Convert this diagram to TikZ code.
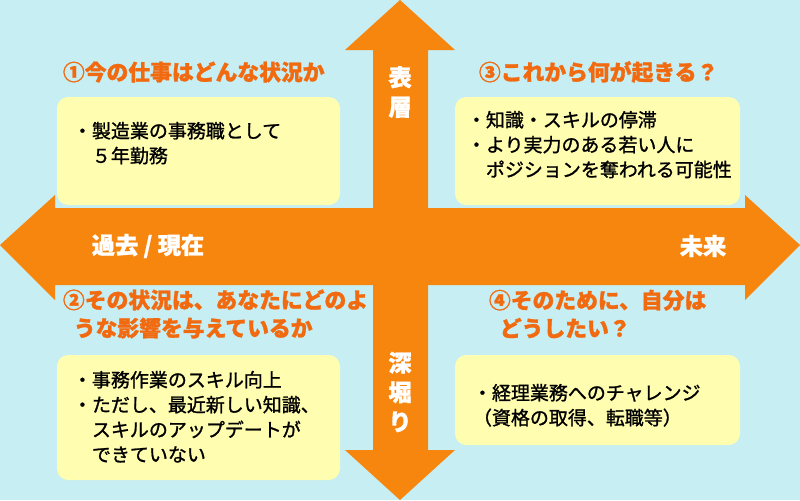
\documentclass[tikz,border=0pt]{standalone}
\usepackage{fontspec}
\setmainfont{Noto Sans CJK JP}[FakeBold=1.2]
\usepackage[rgb]{xcolor}
\definecolor{bgcyan}{HTML}{C6EEF3}
\definecolor{arrorange}{HTML}{F7860F}
\definecolor{boxyellow}{HTML}{FFFDB0}
\definecolor{headorange}{HTML}{F26A10}
\tikzset{
  heading/.style={anchor=west, text=headorange, font=\fontsize{15.5}{20}\selectfont\bfseries, align=left},
  infobox/.style={fill=boxyellow, rounded corners=8pt},
  boxtext/.style={anchor=north west, font=\fontsize{13.5}{17.7}\selectfont, align=left},
  axislabel/.style={text=white, font=\fontsize{16.5}{21}\selectfont\bfseries}
}
\begin{document}
\begin{tikzpicture}[x=0.025cm, y=-0.025cm]

% background
\fill[bgcyan] (0,0) rectangle (800,500);

% horizontal and vertical arrows
\fill[arrorange] (0,245) -- (55,195) -- (55,208) -- (745,208) -- (745,195)
  -- (800,245) -- (745,300) -- (745,285) -- (55,285) -- (55,300) -- cycle;
\fill[arrorange] (400,0) -- (455,50) -- (428,50) -- (428,450) -- (455,450)
  -- (400,500) -- (345,450) -- (373,450) -- (373,50) -- (345,50) -- cycle;

% axis labels
\node[axislabel, align=center] (surface) at (400,92) {表\\層};
\node[axislabel, align=center] (deep) at (400,392) {深\\堀\\り};
\node[axislabel] (past) at (148,246) {過去 / 現在};
\node[axislabel] (future) at (703,246) {未来};

% top left
\node[heading] (q1) at (58,72) {①今の仕事はどんな状況か};
\fill[infobox] (57,97) rectangle (340,205);
\node[boxtext] (a1) at (68,117) {・製造業の事務職として\\\quad ５年勤務};

% top right
\node[heading] (q3) at (474,72) {③これから何が起きる？};
\fill[infobox] (455,97) rectangle (740,205);
\node[boxtext] (a3) at (462,106) {・知識・スキルの停滞\\・より実力のある若い人に\\\quad ポジションを奪われる可能性};

% bottom left
\node[heading] (q2) at (58,314) {②その状況は、あなたにどのよ\\\enspace うな影響を与えているか};
\fill[infobox] (57,355) rectangle (340,480);
\node[boxtext] (a2) at (68,366) {・事務作業のスキル向上\\・ただし、最近新しい知識、\\\quad スキルのアップデートが\\\quad できていない};

% bottom right
\node[heading] (q4) at (484,314) {④そのために、自分は\\\enspace どうしたい？};
\fill[infobox] (455,355) rectangle (740,445);
\node[boxtext] (a4) at (468,379) {・経理業務へのチャレンジ\\（資格の取得、転職等）};

\end{tikzpicture}
\end{document}
